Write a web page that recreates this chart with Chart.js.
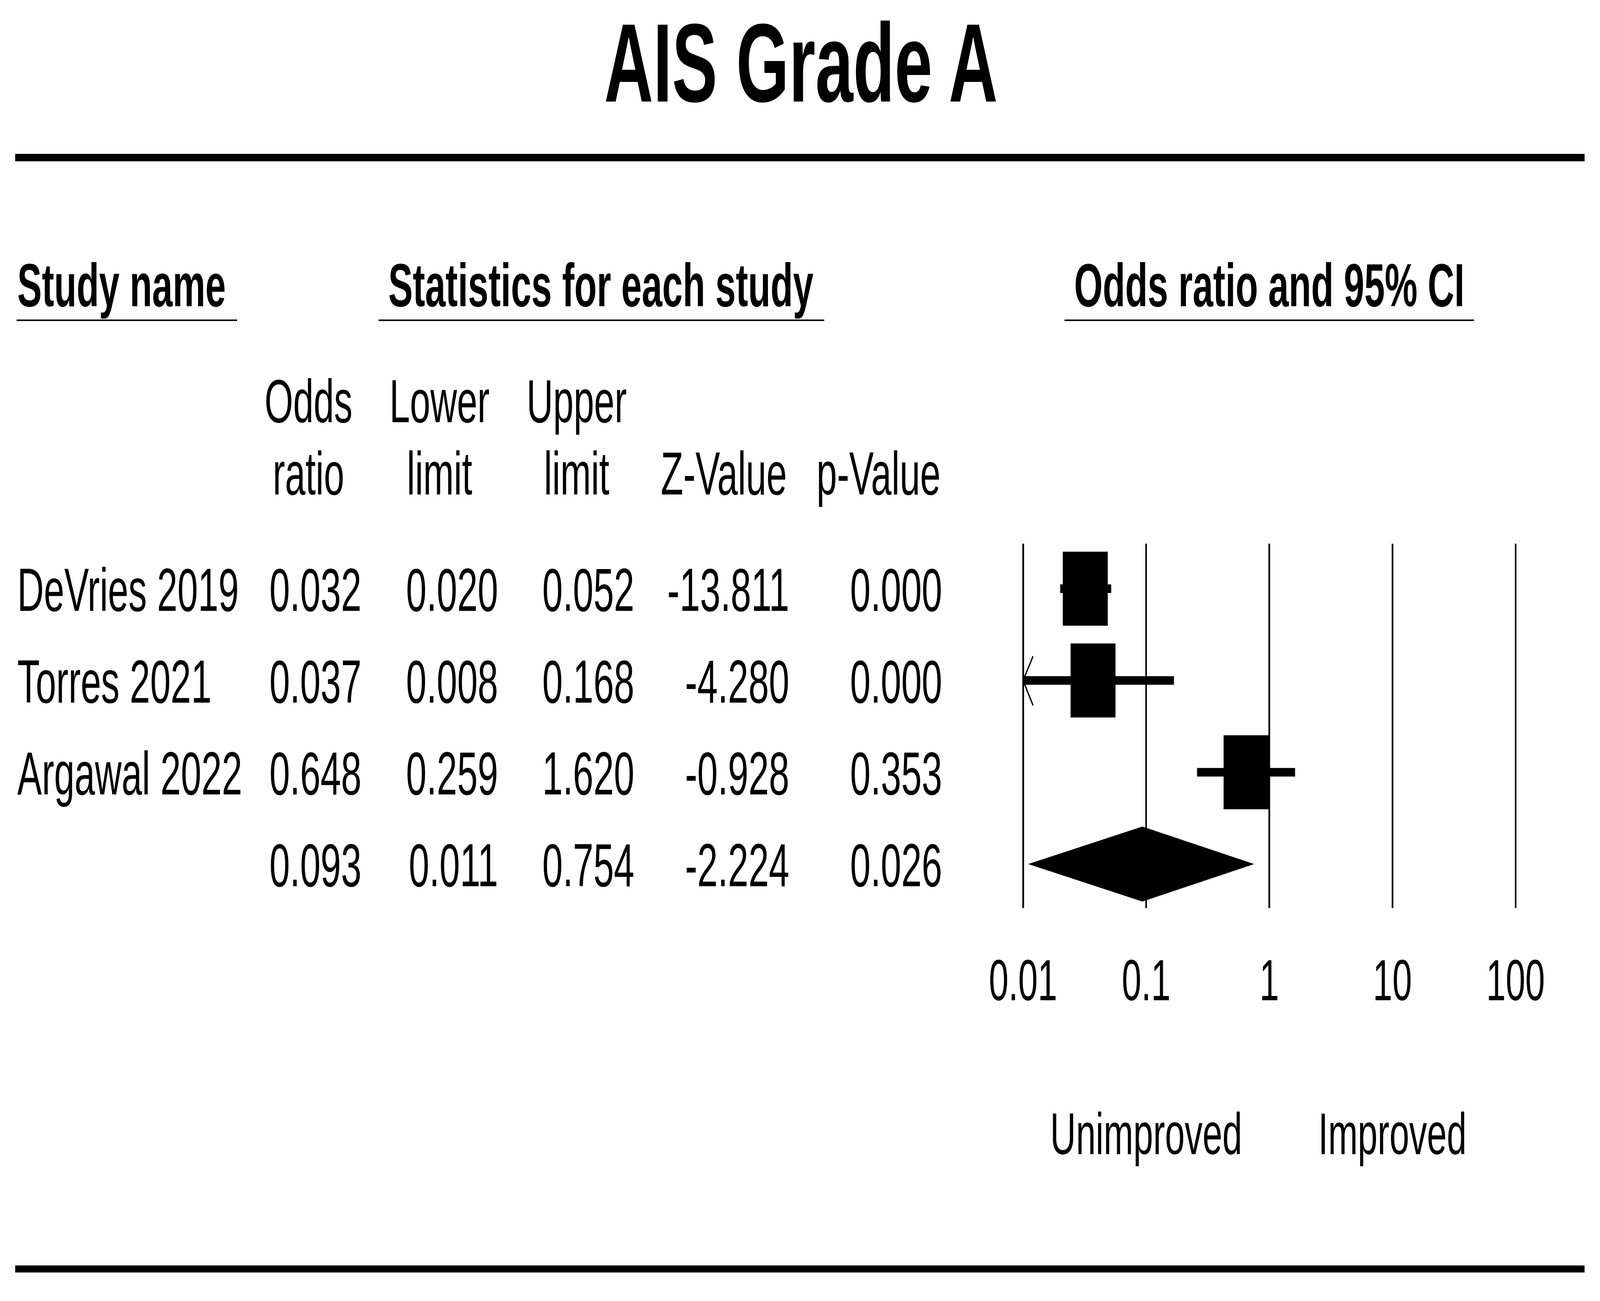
<!DOCTYPE html>
<html>
<head>
<meta charset="utf-8">
<title>AIS Grade A</title>
<script src="https://cdn.jsdelivr.net/npm/chart.js@4.4.1/dist/chart.umd.min.js"></script>
<style>
  html, body { margin: 0; padding: 0; background: #ffffff; overflow: hidden; }
  #frame { position: relative; overflow: hidden; }
  #page { position: absolute; left: 0; top: 0; width: 6742px; height: 3331px; transform-origin: 0 0; }
  #plotBox { position: absolute; left: 4000px; top: 0; width: 2742px; height: 3331px; }
  #forestChart { display: block; width: 2742px; height: 3331px; }
  #table { position: absolute; left: 0; top: 0; }
  #table text { font-family: "Liberation Sans", Arial, sans-serif; fill: #000000; }
</style>
</head>
<body>
<div id="frame">
  <div id="page">
    <div id="plotBox"><canvas id="forestChart" width="2742" height="3331"></canvas></div>
    <svg id="table" width="6742" height="3331" xmlns="http://www.w3.org/2000/svg"></svg>
  </div>
</div>
<script>
// study rows (last row = pooled summary)
const studyNames = ['DeVries 2019', 'Torres 2021', 'Argawal 2022', ''];
const oddsRatios = [0.032, 0.037, 0.648, 0.093];
const lowerLimits = [0.020, 0.008, 0.259, 0.011];
const upperLimits = [0.052, 0.168, 1.620, 0.754];
const zValues = [-13.811, -4.280, -0.928, -2.224];
const pValues = [0.000, 0.000, 0.353, 0.026];

const axisTicks = [0.01, 0.1, 1, 10, 100];
const tickLabels = ['0.01', '0.1', '1', '10', '100'];
const sideLabels = ['Unimproved', 'Improved'];

const FONT = '"Liberation Sans", Arial, sans-serif';
const PAGE_W = 6742, PAGE_H = 3331;
const PLOT_LEFT = 4000; // page x of the chart canvas
const summaryRow = studyNames.length - 1;

// stretch the 6742 x 3331 drawing over the real window
const fitX = (window.innerWidth || PAGE_W) / PAGE_W;
const fitY = (window.innerHeight || PAGE_H) / PAGE_H;
const frame = document.getElementById('frame');
frame.style.width = (PAGE_W * fitX) + 'px';
frame.style.height = (PAGE_H * fitY) + 'px';
document.getElementById('page').style.transform = 'scale(' + fitX + ',' + fitY + ')';

// squares for each study
const squareData = [];
for (let i = 0; i < summaryRow; i++) {
  squareData.push({ x: oddsRatios[i], y: i });
}

// one line dataset per confidence interval
const ciSets = [];
for (let i = 0; i < summaryRow; i++) {
  ciSets.push({
    type: 'line',
    data: [{ x: lowerLimits[i], y: i }, { x: upperLimits[i], y: i }],
    borderColor: '#000000',
    borderWidth: 22,
    pointRadius: 0,
    clip: 0,
    order: 2
  });
}

// diamond for the pooled row + arrows where a CI runs off the axis
const markPlugin = {
  id: 'markPlugin',
  afterDatasetsDraw(chart) {
    const ctx = chart.ctx;
    const xs = chart.scales.x;
    const ys = chart.scales.y;
    ctx.save();
    ctx.fillStyle = '#000000';
    ctx.strokeStyle = '#000000';

    ctx.lineWidth = 5;
    for (let i = 0; i < summaryRow; i++) {
      if (lowerLimits[i] < xs.min) {
        const y = ys.getPixelForValue(i);
        ctx.beginPath();
        ctx.moveTo(xs.left + 42, y - 62);
        ctx.lineTo(xs.left, y);
        ctx.lineTo(xs.left + 42, y + 64);
        ctx.stroke();
      }
    }

    const dy = ys.getPixelForValue(summaryRow);
    ctx.beginPath();
    ctx.moveTo(xs.getPixelForValue(lowerLimits[summaryRow]), dy);
    ctx.lineTo(xs.getPixelForValue(oddsRatios[summaryRow]), dy - 96);
    ctx.lineTo(xs.getPixelForValue(upperLimits[summaryRow]), dy);
    ctx.lineTo(xs.getPixelForValue(oddsRatios[summaryRow]), dy + 96);
    ctx.closePath();
    ctx.fill();
    ctx.restore();
  }
};

const ctx = document.getElementById('forestChart').getContext('2d');
const forestChart = new Chart(ctx, {
  type: 'scatter',
  data: {
    datasets: [{
      data: squareData,
      pointStyle: 'rect',
      pointRadius: 134,
      pointHoverRadius: 134,
      backgroundColor: '#000000',
      borderWidth: 0,
      clip: false,
      order: 1
    }].concat(ciSets)
  },
  options: {
    responsive: false,
    devicePixelRatio: 1,
    animation: false,
    events: [],
    layout: {
      padding: { left: 4311 - PLOT_LEFT, right: 356, top: 1392, bottom: 606 }
    },
    plugins: {
      legend: { display: false },
      tooltip: { enabled: false },
      title: { display: false }
    },
    scales: {
      x: {
        type: 'logarithmic',
        min: 0.01,
        max: 100,
        afterBuildTicks: (scale) => {
          scale.ticks = axisTicks.map(v => ({ value: v }));
        },
        afterFit: (scale) => {
          scale.height = 400;
        },
        border: { display: false },
        grid: {
          color: '#000000',
          lineWidth: 7,
          drawTicks: false
        },
        ticks: {
          color: '#000000',
          padding: 106,
          autoSkip: false,
          maxRotation: 0,
          font: { family: FONT, size: 148 },
          callback: function (value) {
            const k = axisTicks.indexOf(value);
            return k >= 0 ? tickLabels[k] : '';
          }
        }
      },
      y: {
        type: 'linear',
        min: -0.49,
        max: 3.48,
        reverse: true,
        display: false
      }
    }
  },
  plugins: [markPlugin]
});

// ---- table text and rules (svg overlay) ----
const svg = document.getElementById('table');
const NS = 'http://www.w3.org/2000/svg';

function addText(str, x, y, size, anchor, bold) {
  const t = document.createElementNS(NS, 'text');
  t.setAttribute('x', x);
  t.setAttribute('y', y);
  t.setAttribute('font-size', size);
  t.setAttribute('text-anchor', anchor);
  if (bold) t.setAttribute('font-weight', 'bold');
  t.textContent = str;
  svg.appendChild(t);
}
function addRect(x, y, w, h) {
  const r = document.createElementNS(NS, 'rect');
  r.setAttribute('x', x);
  r.setAttribute('y', y);
  r.setAttribute('width', w);
  r.setAttribute('height', h);
  r.setAttribute('fill', '#000000');
  svg.appendChild(r);
}

const xs = forestChart.scales.x;
const ys = forestChart.scales.y;
const pageX = v => PLOT_LEFT + xs.getPixelForValue(v);

// title + rules
addText('AIS Grade A', 3375, 260, 286, 'middle', true);
addRect(64, 394, 6613, 19);
addRect(64, 3240, 6613, 18);

// group headers
addText('Study name', 73, 784, 155, 'start', true);
addRect(70, 818, 929, 4);
addText('Statistics for each study', 2532, 784, 155, 'middle', true);
addRect(1595, 818, 1878, 4);
const midX = PLOT_LEFT + (xs.left + xs.right) / 2;
addText('Odds ratio and 95% CI', midX, 784, 155, 'middle', true);
addRect(midX - 863, 818, 1726, 4);

// column headers
const heads = [
  { x: 1300, lines: ['Odds', 'ratio'] },
  { x: 1852, lines: ['Lower', 'limit'] },
  { x: 2430, lines: ['Upper', 'limit'] },
  { x: 3050, lines: ['', 'Z-Value'] },
  { x: 3702, lines: ['', 'p-Value'] }
];
heads.forEach(h => {
  if (h.lines[0]) addText(h.lines[0], h.x, 1081, 155, 'middle', false);
  addText(h.lines[1], h.x, 1266, 155, 'middle', false);
});

// rows
const colRight = [1523, 2099, 2673, 3326, 3970];
for (let i = 0; i < studyNames.length; i++) {
  const base = ys.getPixelForValue(i) + 57;
  if (studyNames[i]) addText(studyNames[i], 73, base, 155, 'start', false);
  const vals = [oddsRatios[i], lowerLimits[i], upperLimits[i], zValues[i], pValues[i]];
  vals.forEach((v, k) => addText(v.toFixed(3), colRight[k], base, 155, 'end', false));
}

// favours labels under the axis
addText(sideLabels[0], pageX(0.1), 2955, 150, 'middle', false);
addText(sideLabels[1], pageX(10), 2955, 150, 'middle', false);
</script>
</body>
</html>
